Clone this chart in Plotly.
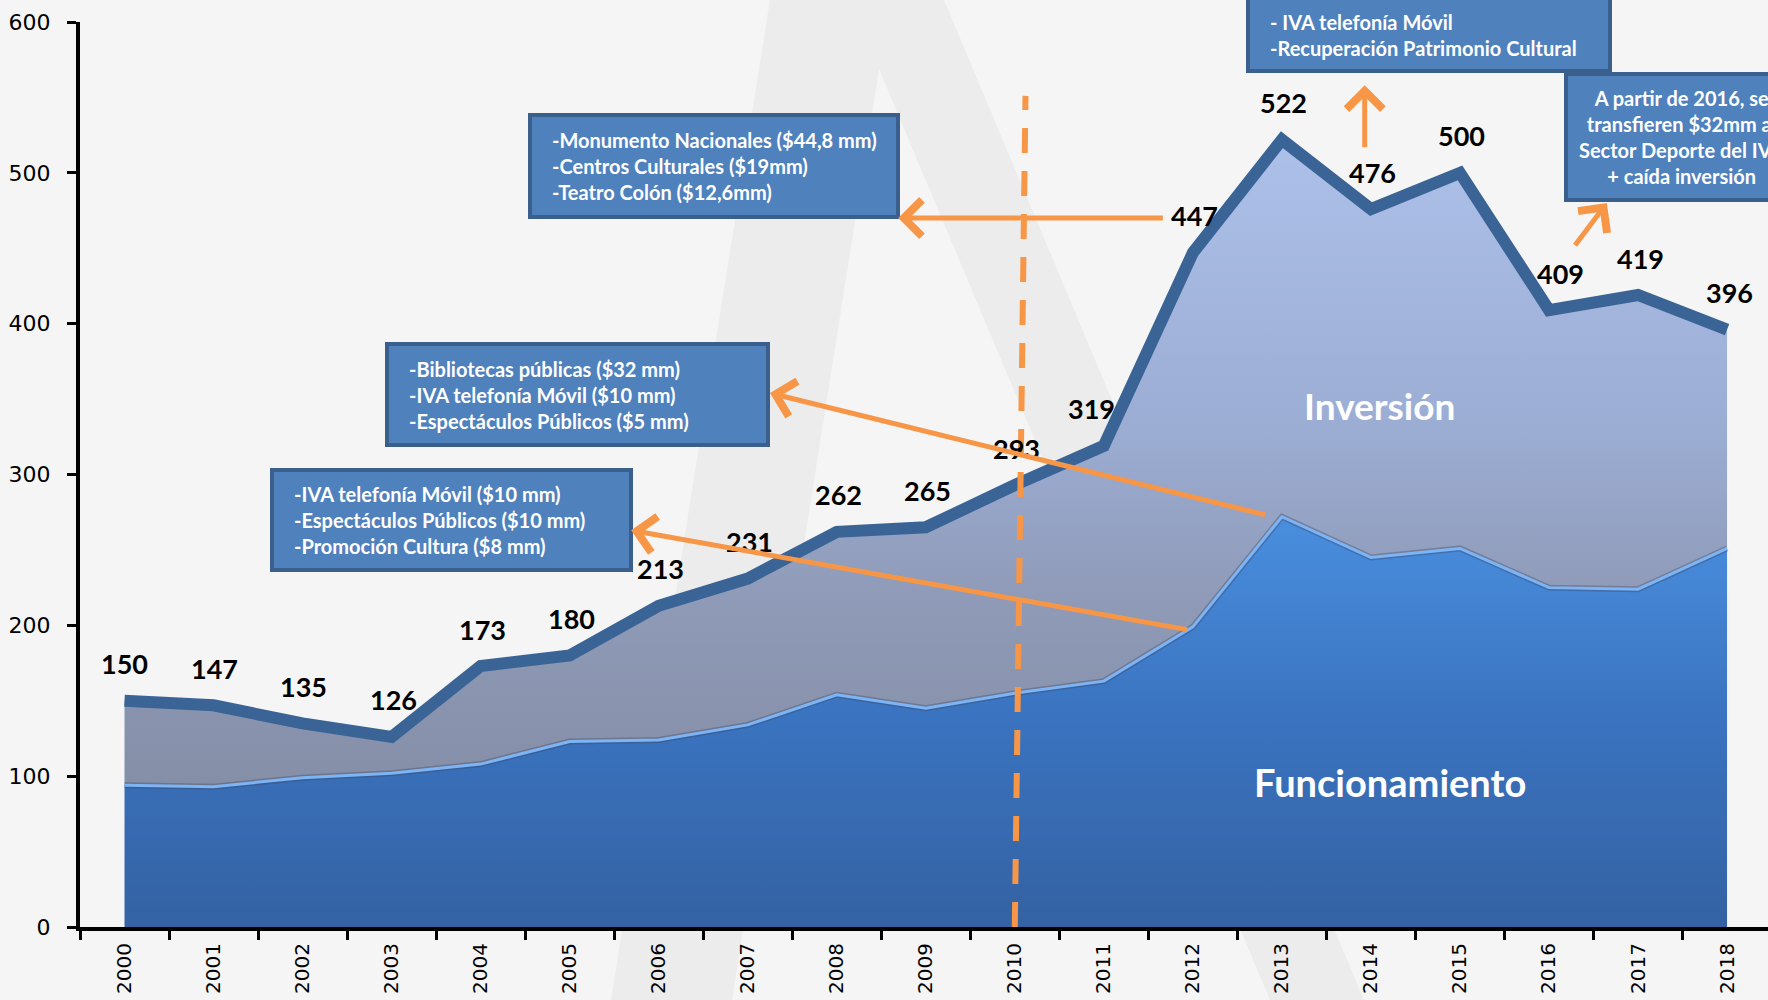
import plotly.graph_objects as go

# ---------------- data ----------------
years = [str(y) for y in range(2000, 2019)]
total = [150, 147, 135, 126, 173, 180, 213, 231, 262, 265, 293, 319, 447, 522, 476, 500, 409, 419, 396]
funcionamiento = [94, 93, 99, 102, 108, 123, 124, 134, 154, 145, 155, 163, 199, 272, 245, 251, 225, 224, 251]
y_ticks = [0, 100, 200, 300, 400, 500, 600]

# small horizontal nudges of some value labels (px)
label_nudge = {"2011": -12, "2016": 12, "2000": 0, "2001": 1, "2002": 1}

ORANGE = "#f79646"
BOX_FILL = "#4f81bd"
BOX_LINE = "#3a5f8c"
LINE_DARK = "#3b6496"
BG = "#f5f5f5"

# plot area in figure pixels
L, R, T, B = 80, 1768, 22, 927


def px(X):
    return (X - L) / (R - L)


def py(Y):
    return (B - Y) / (B - T)


fig = go.Figure()

# Funcionamiento area
fig.add_trace(go.Scatter(
    x=years, y=funcionamiento, mode="lines", line=dict(width=0),
    fill="tozeroy",
    fillgradient=dict(type="vertical", start=0, stop=275,
                      colorscale=[[0, "#3462a3"], [0.5, "#3a73bf"], [1, "#4a8fe0"]]),
    hoverinfo="skip", showlegend=False))

# Inversión area (up to total)
fig.add_trace(go.Scatter(
    x=years, y=total, mode="lines", line=dict(width=0),
    fill="tonexty",
    fillgradient=dict(type="vertical", start=90, stop=530,
                      colorscale=[[0, "#858ea7"], [0.3, "#8f9bb8"], [0.55, "#9cadd4"], [1, "#adc1ea"]]),
    hoverinfo="skip", showlegend=False))

# edge of funcionamiento (shadow + light highlight)
fig.add_trace(go.Scatter(x=years, y=funcionamiento, mode="lines",
                         line=dict(width=6, color="rgba(60,65,90,0.35)"),
                         hoverinfo="skip", showlegend=False))
fig.add_trace(go.Scatter(x=years, y=funcionamiento, mode="lines",
                         line=dict(width=3, color="#7db4f5"),
                         hoverinfo="skip", showlegend=False))

# total thick line
fig.add_trace(go.Scatter(x=years, y=total, mode="lines",
                         line=dict(width=12, color=LINE_DARK),
                         hoverinfo="skip", showlegend=False))

annotations = []

# value labels
for i, (yr, v) in enumerate(zip(years, total)):
    annotations.append(dict(
        x=i, y=v, xref="x", yref="y", text=str(v), showarrow=False,
        font=dict(family="Lato", size=27, color="black", weight="bold"),
        yanchor="middle", xanchor="center", yshift=37,
        xshift=label_nudge.get(yr, 2)))

# area names
annotations.append(dict(x=14.10, y=346, xref="x", yref="y", text="<b>Inversión</b>",
                        showarrow=False, font=dict(family="Lato", size=37, color="white")))
annotations.append(dict(x=14.21, y=96, xref="x", yref="y", text="<b>Funcionamiento</b>",
                        showarrow=False, font=dict(family="Lato", size=38, color="white")))

# arrows (tip, tail)
arrows = [
    ((8.69, 470), (11.68, 470)),
    ((7.25, 354), (12.83, 273)),
    ((5.69, 263), (11.95, 197)),
    ((13.93, 558), (13.93, 516)),
    ((16.65, 480), (16.28, 451)),
]
for (tx, ty), (ax, ay) in arrows:
    annotations.append(dict(
        x=tx, y=ty, ax=ax, ay=ay, xref="x", yref="y", axref="x", ayref="y",
        text="", showarrow=True, arrowhead=4, arrowsize=1.4, arrowwidth=5,
        arrowcolor=ORANGE, standoff=0, startstandoff=0))

# text boxes: (left, top, right, bottom, text_x, anchor, text) in pixels
boxes = [
    (1248, -4, 1610, 71, 1268, "left",
     "- IVA telefonía Móvil<br>-Recuperación Patrimonio Cultural"),
    (530, 115, 898, 217, 550, "left",
     "-Monumento Nacionales ($44,8 mm)<br>-Centros Culturales ($19mm)<br>-Teatro Colón ($12,6mm)"),
    (387, 344, 768, 445, 407, "left",
     "-Bibliotecas públicas ($32 mm)<br>-IVA telefonía Móvil ($10 mm)<br>-Espectáculos Públicos ($5 mm)"),
    (272, 470, 631, 570, 292, "left",
     "-IVA telefonía Móvil ($10 mm)<br>-Espectáculos Públicos ($10 mm)<br>-Promoción Cultura ($8 mm)"),
    (1566, 74, 1800, 200, 1682, "center",
     "A partir de 2016, se<br>transfieren $32mm al<br>Sector Deporte del IVA<br>+ caída inversión"),
]

shapes = []


def poly(points):
    return "M " + " L ".join(f"{px(a):.5f},{py(b):.5f}" for a, b in points) + " Z"


# background watermark strokes (very faint)
shapes.append(dict(type="path", xref="paper", yref="paper", layer="below",
                   path=poly([(770, 0), (890, 0), (732, 1000), (611, 1000)]),
                   fillcolor="#ececed", line=dict(width=0)))
shapes.append(dict(type="path", xref="paper", yref="paper", layer="below",
                   path=poly([(850, 0), (944, 0), (1364, 1000), (1270, 1000)]),
                   fillcolor="#ececed", line=dict(width=0)))

for (l, t, r, b, tx, anc, txt) in boxes:
    shapes.append(dict(type="rect", xref="paper", yref="paper", layer="above",
                       x0=px(l), x1=px(r), y0=py(b), y1=py(t),
                       fillcolor=BOX_FILL, line=dict(color=BOX_LINE, width=4)))
    annotations.append(dict(
        x=px(tx), y=py((t + b) / 2 if t > 0 else 35), xref="paper", yref="paper",
        text=txt, showarrow=False, xanchor=anc, yanchor="middle", align=anc,
        font=dict(family="Lato", size=20, color="white", weight="bold")))

# dashed vertical line at 2010
shapes.append(dict(type="line", xref="x", yref="y", x0=10, y0=0, x1=10.12, y1=551,
                   layer="above", line=dict(color=ORANGE, width=6, dash="25px,18px")))

fig.update_layout(
    width=1768, height=1000,
    margin=dict(l=L, r=1768 - R, t=T, b=1000 - B),
    paper_bgcolor=BG, plot_bgcolor="rgba(0,0,0,0)",
    showlegend=False,
    shapes=shapes, annotations=annotations,
    xaxis=dict(type="category", range=[-0.5, 18.46], tickson="boundaries",
               ticks="outside", ticklen=9, tickwidth=3, tickcolor="black",
               showline=True, linewidth=4, linecolor="black",
               tickangle=-90, tickfont=dict(family="DejaVu Sans", size=20, color="black"),
               showgrid=False, zeroline=False, ticklabelstandoff=4),
    yaxis=dict(range=[0, 600], tickvals=y_ticks, ticks="outside", ticklen=9,
               tickwidth=3, tickcolor="black", showline=True, linewidth=4,
               linecolor="black", showgrid=False, zeroline=False,
               tickfont=dict(family="DejaVu Sans", size=22, color="black"),
               ticklabelstandoff=12),
)

fig.write_html(
    "out.html",
    config={"displayModeBar": False},
    post_script=("document.body.style.margin='0';"
                 "document.body.style.overflow='hidden';"
                 "document.body.style.background='" + BG + "';"),
)
